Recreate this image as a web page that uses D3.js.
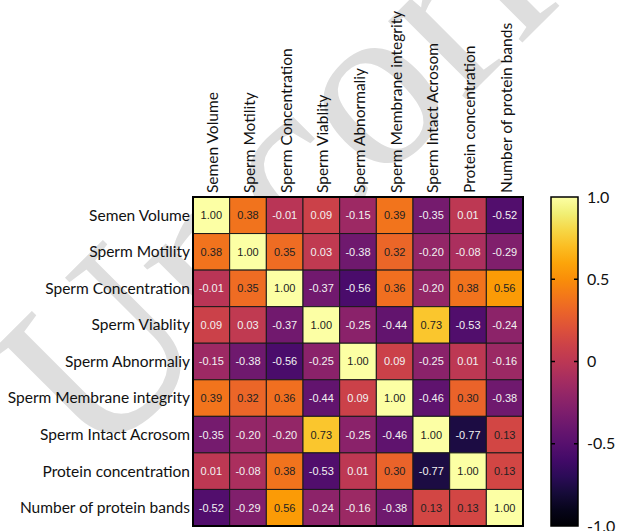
<!DOCTYPE html>
<html>
<head>
<meta charset="utf-8">
<script src="https://cdn.jsdelivr.net/npm/d3@7"></script>
<style>
  body { margin: 0; background: #fff; }
  svg { display: block; }
</style>
</head>
<body>
<div id="chart"></div>
<script>
var vars = ["Semen Volume", "Sperm Motility", "Sperm Concentration", "Sperm Viablity",
  "Sperm Abnormaliy", "Sperm Membrane integrity", "Sperm Intact Acrosom",
  "Protein concentration", "Number of protein bands"]

var corr = [
  [ 1.00,  0.38, -0.01,  0.09, -0.15,  0.39, -0.35,  0.01, -0.52],
  [ 0.38,  1.00,  0.35,  0.03, -0.38,  0.32, -0.20, -0.08, -0.29],
  [-0.01,  0.35,  1.00, -0.37, -0.56,  0.36, -0.20,  0.38,  0.56],
  [ 0.09,  0.03, -0.37,  1.00, -0.25, -0.44,  0.73, -0.53, -0.24],
  [-0.15, -0.38, -0.56, -0.25,  1.00,  0.09, -0.25,  0.01, -0.16],
  [ 0.39,  0.32,  0.36, -0.44,  0.09,  1.00, -0.46,  0.30, -0.38],
  [-0.35, -0.20, -0.20,  0.73, -0.25, -0.46,  1.00, -0.77,  0.13],
  [ 0.01, -0.08,  0.38, -0.53,  0.01,  0.30, -0.77,  1.00,  0.13],
  [-0.52, -0.29,  0.56, -0.24, -0.16, -0.38,  0.13,  0.13,  1.00]
]

var barTicks = [1, 0.5, 0, -0.5, -1]
var barTickLabels = ["1.0", "0.5", "0", "-0.5", "-1.0"]

var width = 618
var height = 531
var margin = {top: 197, left: 193}
var gridW = 330, gridH = 329

var svg = d3.select("#chart").append("svg")
  .attr("width", width)
  .attr("height", height)

// watermark
svg.append("text")
  .attr("transform", "translate(95,470) rotate(-45)")
  .style("font-family", "'Liberation Serif', 'DejaVu Serif', serif")
  .style("font-size", "240px")
  .style("fill", "#dedede")
  .text("Uncorrected")

var g = svg.append("g")
  .attr("transform", "translate(" + margin.left + "," + margin.top + ")")

var x = d3.scaleBand().domain(vars).range([0, gridW])
var y = d3.scaleBand().domain(vars).range([0, gridH])
var color = d3.scaleSequential(d3.interpolateInferno).domain([-1, 1])

var cells = []
corr.forEach(function(row, i) {
  row.forEach(function(v, j) {
    cells.push({r: vars[i], c: vars[j], v: v})
  })
})

g.selectAll("rect.cell")
  .data(cells)
  .enter()
  .append("rect")
  .attr("class", "cell")
  .attr("x", function(d) { return x(d.c) })
  .attr("y", function(d) { return y(d.r) })
  .attr("width", x.bandwidth())
  .attr("height", y.bandwidth())
  .style("fill", function(d) { return color(d.v) })
  .style("stroke", "#1a1a1a")
  .style("stroke-width", 1)

g.selectAll("text.val")
  .data(cells)
  .enter()
  .append("text")
  .attr("class", "val")
  .attr("x", function(d) { return x(d.c) + x.bandwidth() / 2 })
  .attr("y", function(d) { return y(d.r) + y.bandwidth() / 2 })
  .attr("dy", "0.36em")
  .style("text-anchor", "middle")
  .style("font-family", "'Liberation Sans', Arial, sans-serif")
  .style("font-size", "11px")
  .style("fill", function(d) { return d.v > 0.1 ? "#222" : "#f2f2f2" })
  .text(function(d) { return d.v.toFixed(2) })

g.append("rect")
  .attr("width", gridW)
  .attr("height", gridH)
  .style("fill", "none")
  .style("stroke", "#000")
  .style("stroke-width", 2)

// row labels
g.selectAll("text.rowlab")
  .data(vars)
  .enter()
  .append("text")
  .attr("class", "rowlab")
  .attr("x", -3)
  .attr("y", function(d) { return y(d) + y.bandwidth() / 2 })
  .attr("dy", "0.35em")
  .style("text-anchor", "end")
  .style("font-family", "Lato, 'Open Sans', sans-serif")
  .style("font-size", "15.5px")
  .style("fill", "#111")
  .text(function(d) { return d })

// column labels
g.selectAll("text.collab")
  .data(vars)
  .enter()
  .append("text")
  .attr("class", "collab")
  .attr("transform", function(d) {
    return "translate(" + (x(d) + x.bandwidth() / 2 + 7) + ",-4) rotate(-90)"
  })
  .style("text-anchor", "start")
  .style("font-family", "Lato, 'Open Sans', sans-serif")
  .style("font-size", "15.5px")
  .style("fill", "#111")
  .text(function(d) { return d })

// colour bar
var barX = 551, barW = 27
var yb = d3.scaleLinear().domain([1, -1]).range([0, gridH])

var grad = svg.append("defs").append("linearGradient")
  .attr("id", "grad")
  .attr("x1", "0").attr("y1", "1").attr("x2", "0").attr("y2", "0")
grad.selectAll("stop")
  .data(d3.range(0, 1.0001, 0.05))
  .enter()
  .append("stop")
  .attr("offset", function(t) { return t })
  .attr("stop-color", function(t) { return d3.interpolateInferno(t) })

var bar = svg.append("g")
  .attr("transform", "translate(" + barX + "," + margin.top + ")")

bar.append("rect")
  .attr("width", barW)
  .attr("height", gridH)
  .style("fill", "url(#grad)")
  .style("stroke", "#000")
  .style("stroke-width", 1.5)

bar.selectAll("line.tl")
  .data(barTicks.slice(1, 4))
  .enter()
  .append("line")
  .attr("x1", 0).attr("x2", 4)
  .attr("y1", function(d) { return yb(d) }).attr("y2", function(d) { return yb(d) })
  .style("stroke", "#000").style("stroke-width", 1.5)

bar.selectAll("line.tr")
  .data(barTicks.slice(1, 4))
  .enter()
  .append("line")
  .attr("x1", barW - 4).attr("x2", barW)
  .attr("y1", function(d) { return yb(d) }).attr("y2", function(d) { return yb(d) })
  .style("stroke", "#000").style("stroke-width", 1.5)

bar.selectAll("text.tick")
  .data(barTicks)
  .enter()
  .append("text")
  .attr("x", barW + 9)
  .attr("y", function(d) { return yb(d) })
  .attr("dy", "0.35em")
  .style("font-family", "Lato, 'Open Sans', sans-serif")
  .style("font-size", "16px")
  .style("fill", "#111")
  .text(function(d, i) { return barTickLabels[i] })
</script>
</body>
</html>
